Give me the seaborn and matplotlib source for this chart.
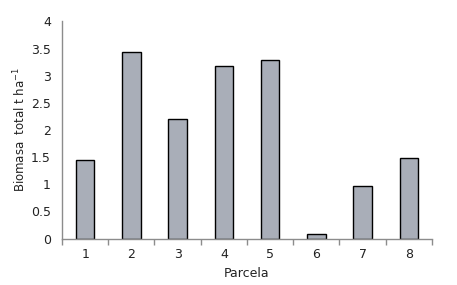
import numpy as np
import pandas as pd
import matplotlib
matplotlib.use('Agg')
import matplotlib.pyplot as plt
import seaborn as sns

# Datos
parcelas = ['1', '2', '3', '4', '5', '6', '7', '8']
biomasa = [1.44, 3.44, 2.21, 3.18, 3.29, 0.09, 0.96, 1.48]

df = pd.DataFrame({'Parcela': parcelas, 'Biomasa': biomasa})

sns.set_style('white')
plt.rcParams['font.family'] = ['DejaVu Sans']
plt.rcParams['mathtext.default'] = 'regular'

fig = plt.figure(figsize=(4.57, 2.85), dpi=100)
ax = fig.add_axes([0.1357, 0.163, 0.8093, 0.762])

sns.barplot(data=df, x='Parcela', y='Biomasa', color='#a9aeb8',
            edgecolor='black', linewidth=1, width=0.4, saturation=1, ax=ax)

ax.set_xlim(-0.5, 7.5)
ax.set_ylim(0, 4)
ax.set_yticks(np.arange(0, 4.01, 0.5))
ax.set_yticklabels(['0', '0.5', '1', '1.5', '2', '2.5', '3', '3.5', '4'])

# marcas del eje x entre categorías
ax.set_xticks(np.arange(-0.5, 8, 1), minor=True)
ax.tick_params(axis='x', which='major', length=0, pad=7, labelsize=9, labelcolor='#222222')
ax.tick_params(axis='x', which='minor', bottom=True, length=4, width=1,
               color='#8c8c8c', direction='out')
ax.tick_params(axis='y', length=4, width=1, color='#8c8c8c', labelsize=9,
               labelcolor='#222222', pad=4)

for lado in ['top', 'right']:
    ax.spines[lado].set_visible(False)
for lado in ['left', 'bottom']:
    ax.spines[lado].set_color('#8c8c8c')
    ax.spines[lado].set_linewidth(1)

ax.set_xlabel('Parcela', fontsize=9, color='#222222', labelpad=4)
ax.set_ylabel('Biomasa  total t ha$^{-1}$', fontsize=8.5, color='#222222', labelpad=2)

plt.savefig('out.png', dpi=100)
